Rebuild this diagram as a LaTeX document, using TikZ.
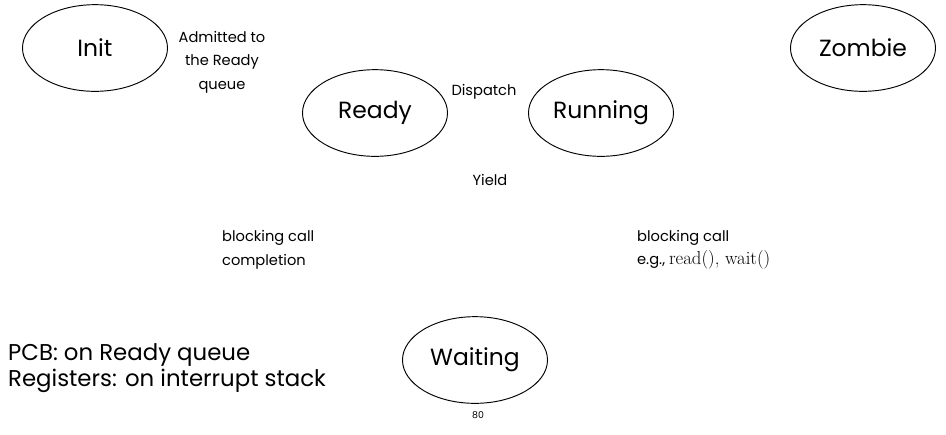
\documentclass[tikz,border=0pt]{standalone}
\usepackage{fontspec}
\setmainfont{Poppins}
\newfontfamily\codefont{Latin Modern Roman}
\usetikzlibrary{shapes.geometric}
\tikzstyle{state} = [ellipse, draw=black, thick, minimum width=4.35cm, minimum height=2.6cm, inner sep=0pt, font=\fontsize{20}{24}\selectfont]
\tikzstyle{label} = [align=center, font=\fontsize{12.5}{20}\selectfont]
\tikzstyle{note} = [align=left, anchor=west, font=\fontsize{12.5}{20}\selectfont]
\begin{document}
\begin{tikzpicture}[x=0.03cm, y=-0.03cm]
\useasboundingbox (0,0) rectangle (946,434);

% Nodes
\node (init) [state] at (95,48) {Init};
\node (ready) [state] at (375,113) {Ready};
\node (running) [state] at (601,113) {Running};
\node (zombie) [state] at (863,48) {Zombie};
\node (waiting) [state] at (475,360) {Waiting};

% Labels
\node (admit) [label] at (222,62) {Admitted to\\the Ready\\queue};
\node (dispatch) [label] at (484,92) {Dispatch};
\node (yield) [label] at (490,180) {Yield};
\node (done) [note] at (218,250) {blocking call\\completion};
\node (block) [note] at (633,250) {blocking call\\e.g., {\codefont\fontsize{16}{20}\selectfont read(), wait()}};
\node (pcb) [note, font=\fontsize{19.5}{22}\selectfont] at (4,368) {PCB: on Ready queue\\Registers: on interrupt stack};
\node (page) [font=\fontsize{8}{10}\selectfont] at (478,415) {80};

\end{tikzpicture}
\end{document}
